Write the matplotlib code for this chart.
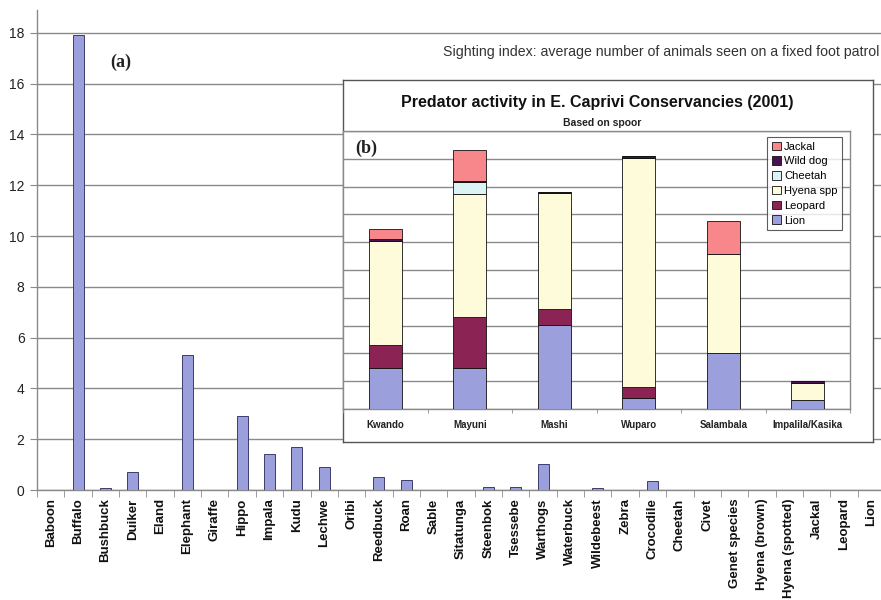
import matplotlib
matplotlib.use("Agg")
import matplotlib.pyplot as plt
import numpy as np

plt.rcParams['font.family'] = ['Liberation Sans', 'DejaVu Sans']

# ---- main chart (a) data ----
species = ["Baboon", "Buffalo", "Bushbuck", "Duiker", "Eland", "Elephant", "Giraffe",
           "Hippo", "Impala", "Kudu", "Lechwe", "Oribi", "Reedbuck", "Roan", "Sable",
           "Sitatunga", "Steenbok", "Tsessebe", "Warthogs", "Waterbuck", "Wildebeest",
           "Zebra", "Crocodile", "Cheetah", "Civet", "Genet species", "Hyena (brown)",
           "Hyena (spotted)", "Jackal", "Leopard", "Lion"]
sighting = [0, 17.9, 0.07, 0.7, 0, 5.3, 0, 2.93, 1.43, 1.7, 0.9, 0, 0.5, 0.4, 0,
            0, 0.1, 0.1, 1.03, 0, 0.06, 0, 0.35, 0, 0, 0, 0, 0, 0, 0, 0]
main_yticks = [0, 2, 4, 6, 8, 10, 12, 14, 16, 18]

# ---- inset chart (b) data ----
conservancies = ["Kwando", "Mayuni", "Mashi", "Wuparo", "Salambala", "Impalila/Kasika"]
lion = [2.94, 2.98, 6.06, 0.80, 4.00, 0.62]
leopard = [1.68, 3.64, 1.16, 0.76, 0.0, 0.0]
hyena = [7.44, 8.88, 8.30, 16.52, 7.16, 1.26]
cheetah = [0, 0.80, 0, 0, 0, 0]
wild_dog = [0.14, 0.10, 0.10, 0.14, 0, 0.10]
jackal = [0.74, 2.22, 0, 0, 2.38, 0]

W, H = 881, 600
fig = plt.figure(figsize=(W / 100, H / 100), dpi=100)
fig.patch.set_facecolor("white")

def fx(px):
    return px / W

def fy(py):
    return 1 - py / H

grid_c = "#8a8a8a"
bar_c = "#9b9fdb"

# main axes
ax = fig.add_axes([fx(37), 110 / H, 848 / W, 480 / H])
x = np.arange(len(species))
ax.bar(x, sighting, width=0.4, color=bar_c, edgecolor="#3c3c6e", linewidth=0.7, zorder=3)
ax.set_xlim(-0.5, len(species) - 0.5)
ax.set_ylim(0, 18.9)
ax.set_yticks(main_yticks)
ax.set_yticklabels([str(v) for v in main_yticks], fontsize=10, color="#222222")
ax.yaxis.grid(True, color=grid_c, linewidth=1.0, zorder=0)
ax.set_axisbelow(True)
for s in ["top", "right"]:
    ax.spines[s].set_visible(False)
for s in ["left", "bottom"]:
    ax.spines[s].set_color(grid_c)
    ax.spines[s].set_linewidth(1.0)
ax.set_xticks(x)
ax.set_xticklabels(species, rotation=90, fontsize=9.5, fontweight="bold", va="top", color="#111111")
ax.tick_params(axis="x", which="major", length=0, pad=6)
ax.set_xticks(np.arange(-0.5, len(species), 1), minor=True)
ax.tick_params(axis="x", which="minor", length=5, color=grid_c, direction="out")
ax.tick_params(axis="y", length=5, color=grid_c, pad=4)

fig.text(fx(110), fy(62), "(a)", fontsize=13, fontweight="bold",
         family=["Liberation Serif", "DejaVu Serif"], va="center", ha="left", color="#222222")
fig.text(fx(443), fy(52), "Sighting index: average number of animals seen on a fixed foot patrol",
         fontsize=10.2, va="center", ha="left", color="#333333")

# inset frame
frame = fig.add_axes([fx(343), 158 / H, 530 / W, 362 / H], zorder=5)
frame.set_facecolor("white")
frame.set_xticks([])
frame.set_yticks([])
for s in frame.spines.values():
    s.set_color("#555555")
    s.set_linewidth(1.0)

# inset plot
ia = fig.add_axes([fx(343), 191 / H, 507 / W, 278 / H], zorder=6)
ia.set_facecolor("white")
xi = np.arange(len(conservancies))
series = [("Lion", lion, "#9b9fdb"), ("Leopard", leopard, "#8b2455"),
          ("Hyena spp", hyena, "#fdfbda"), ("Cheetah", cheetah, "#dcf3f6"),
          ("Wild dog", wild_dog, "#4a1050"), ("Jackal", jackal, "#f7878a")]
bottom = np.zeros(len(conservancies))
handles = []
for name, vals, col in series:
    b = ia.bar(xi, vals, bottom=bottom, width=0.39, color=col, edgecolor="#111111",
               linewidth=0.6, zorder=3, label=name)
    handles.append(b)
    bottom = bottom + np.array(vals)
ia.set_xlim(-0.5, len(conservancies) - 0.5)
ia.set_ylim(0, 20)
ia.set_yticks(np.arange(0, 21, 2))
ia.tick_params(axis="y", length=0, labelleft=False)
ia.yaxis.grid(True, color=grid_c, linewidth=1.0, zorder=0)
ia.set_axisbelow(True)
for s in ia.spines.values():
    s.set_color(grid_c)
    s.set_linewidth(1.0)
ia.set_xticks(xi)
ia.set_xticklabels(conservancies, fontsize=7, fontweight="bold", color="#222222")
ia.tick_params(axis="x", which="major", length=0, pad=8)
ia.set_xticks(np.arange(-0.5, len(conservancies), 1), minor=True)
ia.tick_params(axis="x", which="minor", length=3, color=grid_c)

leg = ia.legend(handles[::-1], [h.get_label() for h in handles[::-1]],
                loc="upper right", bbox_to_anchor=(0.984, 0.978), fontsize=8,
                frameon=True, fancybox=False, borderaxespad=0, handlelength=0.8,
                handleheight=0.8, handletextpad=0.3, labelspacing=0.42, borderpad=0.4)
leg.get_frame().set_edgecolor("#333333")
leg.get_frame().set_linewidth(0.8)
leg.set_zorder(10)

fig.text(fx(597), fy(103), "Predator activity in E. Caprivi Conservancies (2001)",
         fontsize=11.5, fontweight="bold", ha="center", va="center", color="#111111", zorder=20)
fig.text(fx(602), fy(123), "Based on spoor", fontsize=7.5, fontweight="bold",
         ha="center", va="center", color="#222222", zorder=20)
fig.text(fx(355), fy(148), "(b)", fontsize=13, fontweight="bold",
         family=["Liberation Serif", "DejaVu Serif"], ha="left", va="center",
         color="#222222", zorder=20)

fig.savefig("out.png", dpi=100, facecolor="white")
